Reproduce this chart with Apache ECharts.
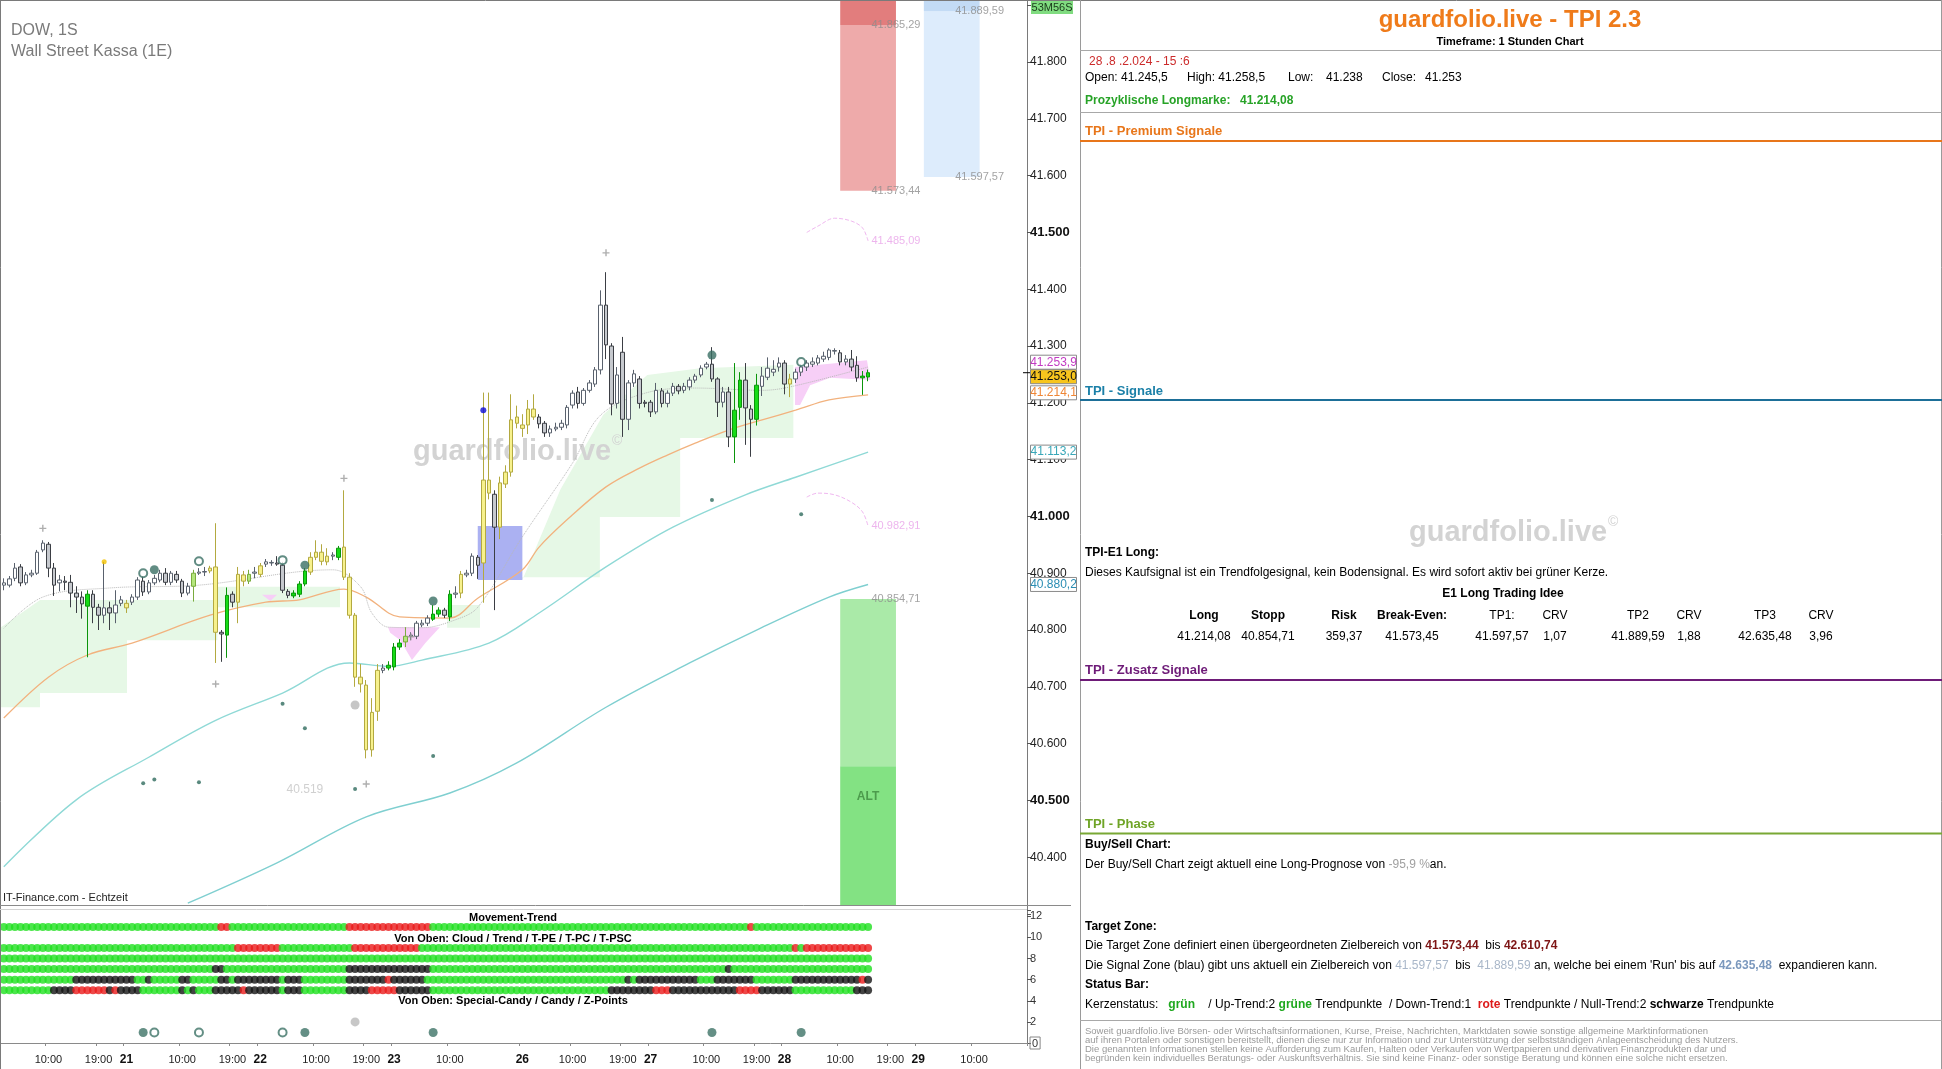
<!DOCTYPE html>
<html>
<head>
<meta charset="utf-8">
<title>DOW TPI 2.3</title>
<script src="https://cdn.jsdelivr.net/npm/echarts@6/dist/echarts.min.js"></script>
<style>
html,body{margin:0;padding:0;background:#fff;overflow:hidden;}
#chart{width:1942px;height:1069px;}
</style>
</head>
<body>
<div id="chart"></div>
<script>
// ---------------- time axis (hourly sessions, Aug 2024) ----------------
const sessionDays      = [20, 21, 22, 23, 26, 27, 28, 29];
const sessionFirstHour = [ 2,  0,  0,  0,  1,  0,  0,  0];
const sessionLastHour  = [23, 23, 23, 22, 23, 23, 23, 19];

// ---------------- candles (156 hourly bars) ----------------
const opens = [
40879,40879,40891,40911,40883,40897,40900,40941,40951,40909,
40883,40886,40884,40865,40858,40842,40863,40840,40826,40839,
40830,40847,40839,40849,40858,40886,40867,40883,40888,40900,
40884,40898,40886,40865,40877,40900,40902,40904,40911,40796,
40791,40863,40849,40897,40886,40900,40898,40916,40918,40918,
40914,40868,40860,40863,40881,40902,40928,40937,40920,40930,
40928,40946,40893,40826,40717,40703,40589,40657,40729,40733,
40735,40770,40779,40789,40789,40809,40812,40819,40828,40835,
40823,40863,40865,40897,40900,40928,40918,41064,41039,40981,
41057,41078,41164,41161,41161,41189,41175,41164,41147,41154,
41157,41161,41196,41219,41199,41222,41233,41258,41372,41300,
41199,41289,41171,41235,41242,41201,41201,41184,41221,41199,
41217,41229,41222,41228,41240,41249,41263,41268,41242,41201,
41219,41140,41192,41240,41189,41171,41229,41245,41254,41263,
41270,41233,41242,41254,41263,41268,41270,41277,41280,41291,
41288,41272,41277,41266,41244,41245.5];
const highs = [
40891,40895,40918,40916,40902,40906,40941,40958,40955,40918,
40897,40895,40897,40877,40868,40870,40870,40846,40920,40850,
40870,40860,40853,40863,40893,40895,40888,40897,40906,40909,
40904,40904,40890,40883,40906,40909,40911,40913,40988,40800,
40875,40868,40911,40904,40906,40911,40918,40925,40923,40930,
40920,40872,40870,40886,40909,40937,40958,40951,40944,40937,
40948,41046,40900,40830,40740,40712,40680,40740,40740,40745,
40777,40784,40805,40796,40816,40818,40826,40844,40840,40839,
40870,40877,40904,40906,40935,40932,41218,41218,41046,41070,
41090,41215,41195,41180,41205,41215,41180,41168,41160,41165,
41170,41196,41222,41228,41226,41240,41263,41398,41430,41305,
41263,41316,41240,41258,41247,41205,41205,41235,41226,41222,
41235,41233,41235,41245,41251,41266,41272,41298,41245,41228,
41228,41270,41254,41270,41196,41251,41263,41280,41275,41280,
41275,41251,41260,41268,41275,41280,41284,41290,41296,41296,
41293,41284,41293,41282,41256,41258.5];
const lows = [
40870,40875,40886,40877,40879,40893,40897,40937,40893,40860,
40868,40870,40840,40830,40820,40752,40812,40800,40812,40800,
40812,40842,40830,40844,40853,40860,40863,40879,40884,40879,
40879,40883,40858,40861,40850,40897,40895,40900,40742,40744,
40751,40840,40812,40877,40881,40891,40893,40911,40913,40913,
40865,40856,40856,40858,40877,40897,40923,40914,40914,40923,
40923,40888,40820,40700,40690,40574,40577,40640,40724,40729,
40729,40765,40770,40782,40784,40805,40807,40816,40823,40821,
40816,40856,40856,40893,40895,40890,40848,41030,40835,40960,
41050,41070,41155,41140,41145,41170,41155,41140,41140,41150,
41152,41155,41190,41190,41195,41218,41228,41250,41277,41178,
41190,41140,41152,41228,41190,41192,41175,41180,41192,41192,
41212,41215,41217,41222,41235,41245,41259,41237,41175,41192,
41122,41094,41170,41126,41105,41160,41212,41240,41247,41255,
41215,41210,41235,41247,41256,41263,41266,41272,41275,41285,
41266,41266,41256,41237,41214,41238];
const closes = [
40883,40890,40909,40883,40897,40900,40937,40953,40909,40879,
40888,40884,40865,40858,40846,40863,40840,40826,40839,40830,
40844,40853,40847,40858,40888,40867,40883,40891,40900,40884,
40900,40888,40865,40877,40900,40902,40903,40909,40796,40793,
40861,40849,40898,40886,40898,40902,40913,40920,40919,40916,
40870,40861,40865,40881,40904,40928,40937,40921,40930,40932,
40944,40893,40826,40717,40705,40589,40655,40729,40733,40738,
40770,40777,40789,40791,40812,40812,40821,40828,40835,40826,
40863,40865,40898,40900,40930,40914,41064,41041,40981,41059,
41078,41170,41175,41155,41189,41175,41163,41147,41154,41157,
41164,41192,41217,41199,41222,41235,41258,41372,41302,41198,
41249,41171,41235,41251,41199,41199,41184,41222,41199,41217,
41229,41221,41229,41240,41247,41261,41268,41242,41201,41219,
41140,41187,41240,41191,41171,41231,41247,41261,41259,41270,
41233,41242,41254,41263,41270,41272,41279,41282,41293,41292,
41272,41277,41263,41244,41247,41253];
// candle signal state: n = normal, y = signal (yellow), g = long (green), l = weak long
const candleState =
  "nnnnnnnnnn" + "nnnnngnnnn" + "nnynnnnnnn" + "nnnnlnnyyn" + "gnyylnynnn" +
  "nngggyyyyn" + "gyyyyyyyng" + "gglnnnnggn" + "gnynnnyyny" + "yyyyyynnnn" +
  "nnnnnnnnnn" + "nnnnnnnnnn" + "nnnnnnnnnn" + "nggnngnnnn" + "nynnnnnnnn" + "nnnngg";

// ---------------- indicator lines: [barIndex, value] ----------------
const emaLine = [[0,40645],[8,40717],[15,40756],[23,40777],[37,40826],[47,40849],[53,40853],[61,40872],[65,40858],[71,40823],[80,40821],[85,40856],[93,40906],[96,40946],[101,40994],[108,41052],[114,41085],[119,41108],[124,41129],[130,41152],[136,41170],[142,41187],[148,41205],[155,41214.1]];
const upperBand = [[0,40383],[13,40501],[26,40576],[38,40641],[50,40689],[62,40742],[69,40736],[75,40747],[87,40777],[96,40830],[108,40911],[120,40981],[133,41038],[142,41069],[155,41113.2]];
const lowerBand = [[33,40319],[49,40390],[65,40471],[80,40513],[92,40566],[108,40664],[123,40742],[135,40800],[148,40858],[155,40880.2]];
const baseLine = [[0,40803],[7,40858],[19,40874],[35,40879],[59,40906],[64,40876],[66,40830],[69,40805],[75,40804],[81,40818],[85,40840],[93,40964],[102,41094],[107,41178],[115,41217],[124,41226],[136,41222],[141,41228],[155,41263]];
const projUpper = [[144,41500],[146,41511],[149,41525],[152,41520],[154,41508],[155,41485.09]];
const projLower = [[144,41034],[146,41041],[149,41038],[152,41025],[154,41008],[155,40982.91]];

// ---------------- clouds: polygons of [barIndex, value] ----------------
const cloudBull = [
  [[-0.5,40805],[6.5,40853],[38.3,40853],[38.3,40876],[60.3,40876],[60.3,40840],[38.3,40840],[38.3,40782],[22.1,40782],[22.1,40689],[6.5,40689],[6.5,40664],[-0.5,40664]],
  [[79.5,40844],[85.4,40844],[85.4,40804],[79.5,40804]],
  [[93,40888],[99.8,41047],[107.5,41179],[115.4,41249],[124.9,41261],[141.6,41267],[141.6,41138],[121.3,41138],[121.3,40999],[106.9,40999],[106.9,40893],[93,40893]]
];
const cloudBear = [
  [[141.9,41263],[154.8,41275],[155.4,41240],[148.2,41244],[144.6,41231],[142.8,41196],[141.9,41196]],
  [[68.9,40805],[78.2,40805],[75.6,40777],[73.2,40747],[71.1,40782],[69.3,40795]],
  [[46.3,40862],[49,40862],[47.8,40851]]
];

// ---------------- zones ----------------
const targetZone = [41573.44, 42610.74];
const targetInner = 41865.29;
const signalZone = [41597.57, 41889.59];
const signalRun = 42635.48;
const stopLevel = 40854.71;
const altLevel = 40560;
const zoneBarsTarget = [150, 160];
const zoneBarsSignal = [165, 175];
const signalBoxBars = [85, 93];
const signalBoxRange = [40888, 40983];

// ---------------- signal markers: [barIndex, value] ----------------
const crossMarks   = [[7,40979],[38,40705],[61,41067],[65,40529],[108,41464],[73,40788]];
const zFilled      = [[27,40906],[54,40914],[77,40851],[127,41284]];
const zHollow      = [[25,40900],[35,40921],[50,40923],[143,41272]];
const zDots        = [[25,40530],[27,40537],[35,40532],[50,40670],[54,40627],[77,40578],[127,41029],[143,41004],[63,40520]];
const candyGray    = [[63,40668]];
const blueSignal   = [[86,41187]];
const yellowSignal = [[18,40920]];
const lowMark      = [54, 40519];

// ---------------- status bar rows: [fromBar, toBar, state] (default up) ----------------
const rowMovement = [[39,40,'r'],[62,76,'r'],[134,134,'r']];
const rowCloud = [[42,49,'r'],[63,74,'r'],[142,142,'r'],[144,155,'r']];
const rowTrend = [];
const rowPE = [[38,39,'k'],[62,76,'k'],[130,130,'k']];
const rowPC = [[13,23,'k'],[26,26,'k'],[32,33,'k'],[39,40,'k'],[42,49,'k'],[51,53,'k'],[62,68,'k'],[69,69,'r'],[70,75,'k'],[112,112,'k'],[114,124,'k'],[128,134,'k'],[142,153,'k'],[154,154,'r'],[155,155,'k']];
const rowPSC = [[9,12,'k'],[13,18,'r'],[19,19,'k'],[20,20,'r'],[21,24,'k'],[32,32,'k'],[34,34,'k'],[38,42,'k'],[43,43,'r'],[44,49,'k'],[51,53,'k'],[62,65,'k'],[66,70,'r'],[71,76,'k'],[109,116,'k'],[117,119,'r'],[120,127,'k'],[128,131,'k'],[132,135,'r'],[136,141,'k'],[153,155,'k']];
const rowLevels = {movement:11, cloud:9, trend:8, pe:7, pc:6, psc:5};
const zPointsFilled = [25,54,77,127,143];
const zPointsHollow = [27,35,50];
const candyPoints = [63];

// ---------------- right axis tags ----------------
const axisTags = [
  {v:41253.9, kind:'pink'},
  {v:41253.0, kind:'price'},
  {v:41214.1, kind:'ema'},
  {v:41113.2, kind:'band'},
  {v:40880.2, kind:'band2'}
];

// =====================================================================
const FONT = "'Liberation Sans', Arial, Helvetica, sans-serif";
const Y_MIN = 40300, Y_MAX = 41909.2, Y_VIEW_MIN = 40316;

const categories = [];
sessionDays.forEach((d, k) => {
  for (let h = sessionFirstHour[k]; h <= sessionLastHour[k]; h++) {
    categories.push(d + '|' + h + '|' + (h === sessionFirstHour[k] ? 1 : 0) + '|' + sessionLastHour[k]);
  }
});
const N_SLOTS = categories.length;
function parseCat(s) { const p = String(s).split('|'); return {d:+p[0], h:+p[1], first:p[2] === '1', lastH:+p[3]}; }
function de(v, d) {
  const s = Number(v).toFixed(d); const parts = s.split('.');
  const a = parts[0].replace(/\B(?=(\d{3})+(?!\d))/g, '.');
  return parts.length > 1 ? a + ',' + parts[1] : a;
}
function clampY(v) { return Math.max(Y_VIEW_MIN, Math.min(Y_MAX, v)); }

const candleColors = {
  up: ['#ffffff', '#59616d'], down: ['#c6c9ce', '#3b3e44'],
  y: ['#f7f18d', '#b3a940'], g: ['#16dc16', '#0b950b'], l: ['#b4e67c', '#7aab3e']
};
const candleData = opens.map((o, k) => {
  const s = candleState[k];
  const c = s === 'n' ? (closes[k] >= o ? candleColors.up : candleColors.down) : candleColors[s];
  return {value:[o, closes[k], lows[k], highs[k]],
    itemStyle:{color:c[0], color0:c[0], borderColor:c[1], borderColor0:c[1], borderColorDoji:c[1], borderWidth:1}};
});

const zoneList = [
  {x:zoneBarsTarget, lo:targetZone[0], hi:targetInner, fill:'#eeaaaa'},
  {x:zoneBarsTarget, lo:targetInner, hi:targetZone[1], fill:'#e27d7d'},
  {x:zoneBarsSignal, lo:signalZone[0], hi:signalZone[1], fill:'#ddecfc'},
  {x:zoneBarsSignal, lo:signalZone[1], hi:signalRun, fill:'#c3dbf5'},
  {x:zoneBarsTarget, lo:altLevel, hi:stopLevel, fill:'#aaeaa8'},
  {x:zoneBarsTarget, lo:Y_VIEW_MIN, hi:altLevel, fill:'#83e283'},
  {x:signalBoxBars, lo:signalBoxRange[0], hi:signalBoxRange[1], fill:'rgba(110,120,232,0.58)'}
];

function polySeries(polys, fill) {
  return {type:'custom', xAxisIndex:1, yAxisIndex:0, silent:true, z:1, animation:false,
    data: polys.map(p => [p[0][0], p[0][1]]),
    renderItem: (params, api) => {
      const pts = polys[params.dataIndex].map(p => api.coord([p[0], clampY(p[1])]));
      return {type:'polygon', shape:{points:pts}, style:{fill:fill}};
    }};
}
function lineSeries(data, color, width, type, z) {
  return {type:'line', xAxisIndex:1, yAxisIndex:0, data:data, showSymbol:false, symbol:'none', smooth:0.35,
    lineStyle:{color:color, width:width, type:type || 'solid'}, z:z || 3, silent:true, animation:false};
}
function markerSeries(data, opt) {
  return Object.assign({type:'scatter', xAxisIndex:1, yAxisIndex:0, data:data, silent:true, z:7, animation:false}, opt);
}

const labelData = [
  {value:[zoneBarsTarget[1], targetInner], text:de(targetInner, 2), color:'#8c8c8c'},
  {value:[zoneBarsTarget[1], targetZone[0]], text:de(targetZone[0], 2), color:'#8c8c8c'},
  {value:[zoneBarsSignal[1], signalZone[1]], text:de(signalZone[1], 2), color:'#8c8c8c'},
  {value:[zoneBarsSignal[1], signalZone[0]], text:de(signalZone[0], 2), color:'#8c8c8c'},
  {value:[zoneBarsTarget[1], stopLevel], text:de(stopLevel, 2), color:'#8c8c8c'},
  {value:[zoneBarsTarget[1], projUpper[projUpper.length-1][1]], text:de(projUpper[projUpper.length-1][1], 2), color:'#e9a3e9'},
  {value:[zoneBarsTarget[1], projLower[projLower.length-1][1]], text:de(projLower[projLower.length-1][1], 2), color:'#e9a3e9'},
  {value:lowMark, text:de(lowMark[1], 0), color:'#c4c4c4', size:12},
  {value:[(zoneBarsTarget[0]+zoneBarsTarget[1])/2, 40506], text:'ALT', color:'#3e8a3e', bold:true, size:12}
];

const DOT_COLORS = {g:'#1fe01f', r:'#ea1a1a', k:'#141414'};
function rowSeries(segs, level) {
  const st = new Array(opens.length).fill('g');
  segs.forEach(s => { for (let k = s[0]; k <= s[1]; k++) st[k] = s[2]; });
  return {type:'scatter', xAxisIndex:2, yAxisIndex:1, symbolSize:8, silent:true, z:5, animation:false,
    data: st.map((s, k) => ({value:[k, level], itemStyle:{color:DOT_COLORS[s]}}))};
}

// axis labels: day number at session start, 10:00 and 19:00 (19:00 skipped on short sessions where it would collide)
const showCat = (idx, val) => {
  const c = parseCat(val);
  if (idx >= N_SLOTS - 1) return false;
  return (c.first && idx > 0) || c.h === 10 || (c.h === 19 && c.lastH === 23);
};

const option = {
  animation:false,
  backgroundColor:'#ffffff',
  textStyle:{fontFamily:FONT},
  grid:[
    {left:1, top:0, width:1026, height:914, outerBoundsMode:'none', containLabel:false},
    {left:1, top:910, width:1026, height:133, outerBoundsMode:'none', containLabel:false}
  ],
  xAxis:[
    {type:'category', gridIndex:0, data:categories, boundaryGap:true, show:false, axisLine:{onZero:false}},
    {type:'value', gridIndex:0, min:-0.5, max:N_SLOTS - 0.5, show:false, axisLine:{onZero:false}},
    {type:'category', gridIndex:1, data:categories, boundaryGap:true,
      axisLine:{show:true, onZero:false, lineStyle:{color:'#8a8a8a'}},
      axisTick:{show:true, interval:showCat, length:3, lineStyle:{color:'#8a8a8a'}},
      splitLine:{show:false},
      axisLabel:{interval:showCat, margin:11, fontSize:11, color:'#222', fontFamily:FONT,
        formatter:(val) => { const c = parseCat(val); if (c.first) return '{d|' + c.d + '}'; return (c.h < 10 ? '0' : '') + c.h + ':00'; },
        rich:{d:{fontWeight:'bold', fontSize:12, color:'#111', fontFamily:FONT}}}}
  ],
  yAxis:[
    {type:'value', gridIndex:0, position:'right', min:Y_MIN, max:Y_MAX, interval:100,
      axisLine:{show:true, onZero:false, lineStyle:{color:'#7a7a7a'}},
      axisTick:{show:true, length:4, lineStyle:{color:'#555'}},
      splitLine:{show:false},
      axisLabel:{margin:3, fontSize:12, color:'#222', fontFamily:FONT,
        formatter:(v) => { if (v < 40350 || v > 41850) return ''; const s = (v/1000).toFixed(3); return (Math.round(v) % 500 === 0) ? '{b|' + s + '}' : s; },
        rich:{b:{fontWeight:'bold', fontSize:13, color:'#111', fontFamily:FONT}}}},
    {type:'value', gridIndex:1, position:'right', min:0, max:12.6, interval:2,
      axisLine:{show:true, onZero:false, lineStyle:{color:'#7a7a7a'}},
      axisTick:{show:true, length:4, lineStyle:{color:'#555'}},
      splitLine:{show:false},
      axisLabel:{margin:3, fontSize:11, color:'#333', fontFamily:FONT,
        formatter:(v) => v === 0 ? '{bx|0}' : (Number.isInteger(v) ? String(v) : ''),
        rich:{bx:{borderColor:'#888', borderWidth:1, padding:[1,2,0,2], fontSize:11, color:'#333'}}}}
  ],
  series:[
    polySeries(cloudBull, '#e6f8e6'),
    polySeries(cloudBear, '#f7cff7'),
    {type:'custom', xAxisIndex:1, yAxisIndex:0, silent:true, z:1, animation:false,
      data: zoneList.map(z => [z.x[0], z.lo]),
      renderItem:(params, api) => {
        const z = zoneList[params.dataIndex];
        const p0 = api.coord([z.x[0], clampY(z.hi)]);
        const p1 = api.coord([z.x[1], clampY(z.lo)]);
        return {type:'rect', shape:{x:p0[0], y:p0[1], width:p1[0]-p0[0], height:p1[1]-p0[1]}, style:{fill:z.fill}};
      }},
    lineSeries(lowerBand, '#7fcfd0', 1.4),
    lineSeries(upperBand, '#8fd9d6', 1.4),
    lineSeries(emaLine, '#f2b27e', 1.3),
    lineSeries(baseLine, '#b9b9b9', 1, 'dotted'),
    lineSeries(projUpper, '#f0b8f0', 1, 'dashed'),
    lineSeries(projLower, '#f0b8f0', 1, 'dashed'),
    {type:'candlestick', xAxisIndex:0, yAxisIndex:0, data:candleData, barWidth:4, z:5, silent:true, animation:false},
    markerSeries(crossMarks, {symbol:'path://M0,4H10V6H0Z M4,0H6V10H4Z', symbolSize:7, itemStyle:{color:'#9a9a9a'}}),
    markerSeries(zFilled, {symbol:'circle', symbolSize:9, itemStyle:{color:'#3a6f64'}}),
    markerSeries(zHollow, {symbol:'circle', symbolSize:8, itemStyle:{color:'#ffffff', borderColor:'#3a6f64', borderWidth:2}}),
    markerSeries(zDots, {symbol:'circle', symbolSize:4, itemStyle:{color:'#2f6b5e'}}),
    markerSeries(candyGray, {symbol:'circle', symbolSize:9, itemStyle:{color:'#b8b8b8'}}),
    markerSeries(blueSignal, {symbol:'circle', symbolSize:6, itemStyle:{color:'#0a0ad8'}}),
    markerSeries(yellowSignal, {symbol:'circle', symbolSize:5, itemStyle:{color:'#f2c200'}}),
    markerSeries(labelData.map(d => ({value:d.value, text:d.text,
        label:{color:d.color, fontSize:d.size || 11, fontWeight:d.bold ? 'bold' : 'normal'}})),
      {symbol:'circle', symbolSize:1, itemStyle:{color:'rgba(0,0,0,0)'}, z:8,
      label:{show:true, position:'inside', offset:[0,1], fontFamily:FONT, formatter:(p) => p.data.text},
      labelLayout:{hideOverlap:false}}),
    rowSeries(rowMovement, rowLevels.movement),
    rowSeries(rowCloud, rowLevels.cloud),
    rowSeries(rowTrend, rowLevels.trend),
    rowSeries(rowPE, rowLevels.pe),
    rowSeries(rowPC, rowLevels.pc),
    rowSeries(rowPSC, rowLevels.psc),
    {type:'scatter', xAxisIndex:2, yAxisIndex:1, symbolSize:9, silent:true, z:6, animation:false,
      data: zPointsFilled.map(k => [k, 1]), itemStyle:{color:'#3d7367'}},
    {type:'scatter', xAxisIndex:2, yAxisIndex:1, symbolSize:8, silent:true, z:6, animation:false,
      data: zPointsHollow.map(k => [k, 1]), itemStyle:{color:'#ffffff', borderColor:'#3d7367', borderWidth:2}},
    {type:'scatter', xAxisIndex:2, yAxisIndex:1, symbolSize:9, silent:true, z:6, animation:false,
      data: candyPoints.map(k => [k, 2]), itemStyle:{color:'#b9b9b9'}}
  ]
};

const chart = echarts.init(document.getElementById('chart'), null, {renderer:'canvas'});
chart.setOption(option);

// ---------------- overlay graphics ----------------
const G = [];
function T(x, y, text, o) {
  o = o || {};
  const st = {text:text, fill:o.fill || '#000', fontSize:o.size || 12, fontWeight:o.weight || 'normal', fontFamily:FONT,
    align:o.align || 'left', verticalAlign:'middle', textAlign:o.align || 'left', textVerticalAlign:'middle'};
  if (o.rich) st.rich = o.rich;
  G.push({type:'text', x:x, y:y, silent:true, z:o.z || 20, style:st});
}
function L(x1, y1, x2, y2, stroke, w) {
  G.push({type:'line', silent:true, z:15, shape:{x1:x1, y1:y1, x2:x2, y2:y2}, style:{stroke:stroke, lineWidth:w || 1}});
}
function R(x, y, w, h, fill, stroke, z) {
  G.push({type:'rect', silent:true, z:z || 18, shape:{x:x, y:y, width:w, height:h}, style:{fill:fill, stroke:stroke || null, lineWidth:1}});
}
function rs(fill, weight, size) { return {fill:fill, fontWeight:weight || 'normal', fontSize:size || 12, fontFamily:FONT}; }

// frame
L(0.5, 0, 0.5, 1069, '#7a7a7a');
L(0, 0.5, 1942, 0.5, '#7a7a7a');
L(1080.5, 0, 1080.5, 1069, '#9a9a9a');
L(1941.5, 0, 1941.5, 1069, '#9a9a9a');
L(0, 905.5, 1071, 905.5, '#8a8a8a');
L(0, 909.5, 1027, 909.5, '#d4d4d4');

// chart texts
T(11, 31, 'DOW, 1S', {fill:'#7a7a7a', size:16});
T(11, 52, 'Wall Street Kassa (1E)', {fill:'#7a7a7a', size:16});
T(3, 898, 'IT-Finance.com - Echtzeit', {fill:'#222', size:11});
T(413, 452, 'guardfolio.live', {fill:'#d3d3d3', size:29, weight:'bold', z:2});
T(612, 441, '\u00A9', {fill:'#d3d3d3', size:14, z:2});
T(1409, 533, 'guardfolio.live', {fill:'#d3d3d3', size:29, weight:'bold', z:2});
T(1608, 522, '\u00A9', {fill:'#d3d3d3', size:14, z:2});
T(513, 918, 'Movement-Trend', {size:11, weight:'bold', align:'center'});
T(513, 938.5, 'Von Oben: Cloud / Trend / T-PE / T-PC / T-PSC', {size:11, weight:'bold', align:'center'});
T(513, 1001, 'Von Oben: Special-Candy / Candy / Z-Points', {size:11, weight:'bold', align:'center'});

// axis tags (placed through the y scale)
const tagStyle = {
  pink:{fill:'#ffffff', text:'#c23bc2', dy:-10},
  price:{fill:'#f7c51d', text:'#111111', dy:4},
  ema:{fill:'#ffffff', text:'#ef8636', dy:-2},
  band:{fill:'#ffffff', text:'#38a7b8', dy:0},
  band2:{fill:'#ffffff', text:'#2a8db3', dy:0}
};
axisTags.forEach(t => {
  const y = chart.convertToPixel({yAxisIndex:0}, t.v);
  const s = tagStyle[t.kind];
  if (t.kind === 'price') L(1023, y, 1030, y, '#000');
  R(1030.5, y + s.dy - 7, 46, 14, s.fill, '#8a8a8a', 30);
  T(1053.5, y + s.dy, de(t.v, 1), {fill:s.text, size:12, align:'center', z:31});
});
R(1031, 1, 42, 13, '#80dc80', null, 30);
T(1052, 8, '53M56S', {fill:'#1a3a1a', size:11, align:'center', z:31});

// right info panel
const last = opens.length - 1;
T(1510, 20, 'guardfolio.live - TPI 2.3', {fill:'#ef7b1a', size:24, weight:'bold', align:'center'});
T(1510, 42, 'Timeframe: 1 Stunden Chart', {size:11, weight:'bold', align:'center'});
L(1080, 50.5, 1942, 50.5, '#a8a8a8');
T(1089, 62, '28 .8 .2.024 - 15 :6', {fill:'#cc2b2b', size:12});
T(1085, 78, 'Open: ' + de(opens[last], 1), {size:12});
T(1187, 78, 'High: ' + de(highs[last], 1), {size:12});
T(1288, 78, 'Low:', {size:12});
T(1326, 78, de(lows[last], 0), {size:12});
T(1382, 78, 'Close:', {size:12});
T(1425, 78, de(closes[last], 0), {size:12});
T(1085, 101, 'Prozyklische Longmarke:', {fill:'#27a327', size:12, weight:'bold'});
T(1240, 101, de(41214.08, 2), {fill:'#27a327', size:12, weight:'bold'});
L(1080, 112.5, 1942, 112.5, '#a8a8a8');
T(1085, 131, 'TPI - Premium Signale', {fill:'#e8761a', size:13, weight:'bold'});
L(1080, 141, 1942, 141, '#e8761a', 2);
T(1085, 391, 'TPI - Signale', {fill:'#1b80a8', size:13, weight:'bold'});
L(1080, 400, 1942, 400, '#1d6f98', 2);
T(1085, 553, 'TPI-E1 Long:', {size:12, weight:'bold'});
T(1085, 573, 'Dieses Kaufsignal ist ein Trendfolgesignal, kein Bodensignal. Es wird sofort aktiv bei gr\u00fcner Kerze.', {size:12});
T(1503, 594, 'E1 Long Trading Idee', {size:12, weight:'bold', align:'center'});
const tblX = [1204, 1268, 1344, 1412, 1502, 1555, 1638, 1689, 1765, 1821];
const tblHead = ['Long', 'Stopp', 'Risk', 'Break-Even:', 'TP1:', 'CRV', 'TP2', 'CRV', 'TP3', 'CRV'];
const tblVals = [de(41214.08,2), de(40854.71,2), de(359.37,2), de(41573.45,2), de(41597.57,2), de(1.07,2), de(41889.59,2), de(1.88,2), de(42635.48,2), de(3.96,2)];
tblX.forEach((x, k) => {
  T(x, 616, tblHead[k], {size:12, weight: k < 4 ? 'bold' : 'normal', align:'center'});
  T(x, 637, tblVals[k], {size:12, align:'center'});
});
T(1085, 670, 'TPI - Zusatz Signale', {fill:'#6e1b78', size:13, weight:'bold'});
L(1080, 680, 1942, 680, '#6e1b78', 2);
T(1085, 824, 'TPI - Phase', {fill:'#6fa426', size:13, weight:'bold'});
L(1080, 833.5, 1942, 833.5, '#79a834', 2);
T(1085, 845, 'Buy/Sell Chart:', {size:12, weight:'bold'});
T(1085, 865, 'Der Buy/Sell Chart zeigt aktuell eine Long-Prognose von {g|-95,9 %}an.', {size:12, rich:{g:rs('#a0a0a0')}});
T(1085, 927, 'Target Zone:', {size:12, weight:'bold'});
T(1085, 946, 'Die Target Zone definiert einen \u00fcbergeordneten Zielbereich von {r|' + de(targetZone[0],2) + '}  bis {r|' + de(targetZone[1],2) + '}', {size:12, rich:{r:rs('#7d1515','bold')}});
T(1085, 966, 'Die Signal Zone (blau) gibt uns aktuell ein Zielbereich von {b|' + de(signalZone[0],2) + '}  bis  {b|' + de(signalZone[1],2) + '} an, welche bei einem \'Run\' bis auf {s|' + de(signalRun,2) + '}  expandieren kann.', {size:12, rich:{b:rs('#a9b7c9'), s:rs('#7b98bd','bold')}});
T(1085, 985, 'Status Bar:', {size:12, weight:'bold'});
T(1085, 1005, 'Kerzenstatus:   {g|gr\u00fcn}    / Up-Trend:2 {g|gr\u00fcne} Trendpunkte  / Down-Trend:1  {r|rote} Trendpunkte / Null-Trend:2 {k|schwarze} Trendpunkte', {size:12, rich:{g:rs('#1fa81f','bold'), r:rs('#dd1a1a','bold'), k:rs('#000','bold')}});
L(1080, 1020.5, 1942, 1020.5, '#a8a8a8');
const disclaimer = [
  'Soweit guardfolio.live B\u00f6rsen- oder Wirtschaftsinformationen, Kurse, Preise, Nachrichten, Marktdaten sowie sonstige allgemeine Marktinformationen',
  'auf ihren Portalen oder sonstigen bereitstellt, dienen diese nur zur Information und zur Unterst\u00fctzung der selbstst\u00e4ndigen Anlageentscheidung des Nutzers.',
  'Die genannten Informationen stellen keine Aufforderung zum Kaufen, Halten oder Verkaufen von Wertpapieren und derivativen Finanzprodukten dar und',
  'begr\u00fcnden kein individuelles Beratungs- oder Auskunftsverh\u00e4ltnis. Sie sind keine Finanz- oder sonstige Beratung und k\u00f6nnen eine solche nicht ersetzen.'
];
disclaimer.forEach((s, k) => T(1085, 1031 + k * 9.2, s, {fill:'#9a9a9a', size:9.5}));

chart.setOption({graphic:{elements:G}});
</script>
</body>
</html>
